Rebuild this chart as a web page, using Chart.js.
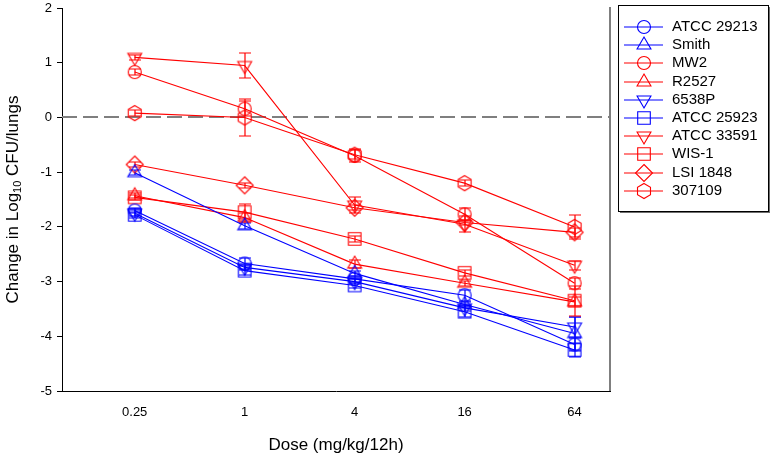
<!DOCTYPE html>
<html>
<head>
<meta charset="utf-8">
<script src="https://cdn.jsdelivr.net/npm/chart.js@4.4.1/dist/chart.umd.min.js"></script>
<style>
    html, body { margin: 0; padding: 0; background: #fff; }
    #marco { width: 771px; height: 455px; }
</style>
</head>
<body>
<div id="marco"><canvas id="grafico" width="771" height="455"></canvas></div>
<script>
    // Dosis (eje x, logarítmico) y etiquetas
    const doses = [0.25, 1, 4, 16, 64];
    const doseLabels = ['0.25', '1', '4', '16', '64'];

    // Cepas, en el orden de la leyenda
    const strains = ['ATCC 29213', 'Smith', 'MW2', 'R2527', '6538P', 'ATCC 25923', 'ATCC 33591', 'WIS-1', 'LSI 1848', '307109'];
    const strainColors = ['#0000ff', '#0000ff', '#ff0000', '#ff0000', '#0000ff', '#0000ff', '#ff0000', '#ff0000', '#ff0000', '#ff0000'];
    const strainMarkers = ['circle', 'triangle', 'circle', 'triangle', 'triangleDown', 'square', 'triangleDown', 'square', 'diamond', 'hexagon'];

    // Cambio en log10 UFC/pulmones por dosis
    const atcc29213 = [-1.70, -2.67, -2.95, -3.25, -4.15];
    const smith     = [-1.01, -1.98, -2.85, -3.42, -3.95];
    const mw2       = [0.83, 0.16, -0.70, -1.77, -3.03];
    const r2527     = [-1.43, -1.83, -2.68, -3.03, -3.37];
    const s6538p    = [-1.75, -2.74, -3.00, -3.48, -3.83];
    const atcc25923 = [-1.78, -2.80, -3.07, -3.55, -4.25];
    const atcc33591 = [1.10, 0.95, -1.60, -1.95, -2.70];
    const wis1      = [-1.46, -1.73, -2.22, -2.84, -3.35];
    const lsi1848   = [-0.86, -1.24, -1.65, -1.92, -2.10];
    const s307109   = [0.08, 0.00, -0.68, -1.20, -2.00];

    // Barras de error (±)
    const errAtcc29213 = [0.05, 0.10, 0.05, 0.10, 0.12];
    const errSmith     = [0.05, 0.05, 0.05, 0.05, 0.30];
    const errMw2       = [0.05, 0.14, 0.12, 0.12, 0.10];
    const errR2527     = [0.05, 0.08, 0.08, 0.05, 0.08];
    const err6538p     = [0.05, 0.05, 0.05, 0.05, 0.18];
    const errAtcc25923 = [0.05, 0.08, 0.05, 0.10, 0.12];
    const errAtcc33591 = [0.05, 0.23, 0.15, 0.15, 0.08];
    const errWis1      = [0.05, 0.14, 0.05, 0.05, 0.27];
    const errLsi1848   = [0.05, 0.05, 0.05, 0.05, 0.08];
    const err307109    = [0.05, 0.33, 0.08, 0.05, 0.22];

    const seriesValues = [atcc29213, smith, mw2, r2527, s6538p, atcc25923, atcc33591, wis1, lsi1848, s307109];
    const seriesErrors = [errAtcc29213, errSmith, errMw2, errR2527, err6538p, errAtcc25923, errAtcc33591, errWis1, errLsi1848, err307109];

    const FUENTE = '"Liberation Sans", Arial, sans-serif';

    // Dibuja el contorno de un marcador centrado en (cx, cy)
    function trazarMarcador(ctx, forma, cx, cy) {
        ctx.beginPath();
        if (forma === 'circle') {
            ctx.arc(cx, cy, 6.5, 0, Math.PI * 2);
        } else if (forma === 'triangle' || forma === 'triangleDown') {
            const r = 8, s = forma === 'triangle' ? 1 : -1;
            ctx.moveTo(cx, cy - s * r);
            ctx.lineTo(cx + r * 0.866, cy + s * r * 0.5);
            ctx.lineTo(cx - r * 0.866, cy + s * r * 0.5);
            ctx.closePath();
        } else if (forma === 'square') {
            ctx.rect(cx - 6.3, cy - 6.3, 12.6, 12.6);
        } else if (forma === 'diamond') {
            const d = 8.5;
            ctx.moveTo(cx, cy - d); ctx.lineTo(cx + d, cy);
            ctx.lineTo(cx, cy + d); ctx.lineTo(cx - d, cy);
            ctx.closePath();
        } else if (forma === 'hexagon') {
            const r = 7.5;
            for (let k = 0; k < 6; k++) {
                const ang = -Math.PI / 2 + k * Math.PI / 3;
                const px = cx + r * Math.cos(ang), py = cy + r * Math.sin(ang);
                if (k === 0) ctx.moveTo(px, py); else ctx.lineTo(px, py);
            }
            ctx.closePath();
        }
        ctx.stroke();
    }

    // Imagen de cada marcador para usar como pointStyle
    const markerImages = strainMarkers.map((forma, i) => {
        const c = document.createElement('canvas');
        c.width = 22; c.height = 22;
        const g = c.getContext('2d');
        g.strokeStyle = strainColors[i];
        g.lineWidth = 1.1;
        trazarMarcador(g, forma, 11, 11);
        return c;
    });

    // Línea discontinua en y = 0, borde derecho y barras de error
    const pluginFondo = {
        id: 'pluginFondo',
        beforeDatasetsDraw(chart) {
            const { ctx, chartArea: a, scales: { y } } = chart;
            ctx.save();
            const y0 = Math.round(y.getPixelForValue(0));
            ctx.strokeStyle = '#7f7f7f';
            ctx.lineWidth = 2;
            ctx.setLineDash([15, 6]);
            ctx.beginPath();
            ctx.moveTo(a.left, y0);
            ctx.lineTo(a.right, y0);
            ctx.stroke();
            ctx.restore();

            // barras de error sin ajuste a medio píxel para que conserven el color
            for (let i = 0; i < chart.data.datasets.length; i++) {
                const meta = chart.getDatasetMeta(i);
                const color = chart.data.datasets[i].borderColor;
                meta.data.forEach((pt, j) => {
                    const v = seriesValues[i][j], e = seriesErrors[i][j];
                    const xp = Math.round(pt.x);
                    const yt = Math.round(y.getPixelForValue(v + e));
                    const yb = Math.round(y.getPixelForValue(v - e));
                    ctx.save();
                    ctx.lineWidth = 1.2;
                    ctx.strokeStyle = color;
                    ctx.beginPath();
                    ctx.moveTo(xp, yt); ctx.lineTo(xp, yb);
                    ctx.moveTo(xp - 6, yt); ctx.lineTo(xp + 6, yt);
                    ctx.moveTo(xp - 6, yb); ctx.lineTo(xp + 6, yb);
                    ctx.stroke();
                    ctx.restore();
                });
            }
        },
        afterDraw(chart) {
            const { ctx, chartArea: a } = chart;
            ctx.save();
            // borde derecho gris
            ctx.strokeStyle = '#7f7f7f';
            ctx.lineWidth = 2;
            ctx.beginPath();
            ctx.moveTo(a.right, a.top - 1);
            ctx.lineTo(a.right, a.bottom);
            ctx.stroke();

            // título del eje y con subíndice
            ctx.fillStyle = '#000';
            ctx.translate(13, (a.top + a.bottom) / 2);
            ctx.rotate(-Math.PI / 2);
            ctx.textBaseline = 'middle';
            const p1 = 'Change in Log', p2 = '10', p3 = ' CFU/lungs';
            ctx.font = '17px ' + FUENTE;
            const w1 = ctx.measureText(p1).width, w3 = ctx.measureText(p3).width;
            ctx.font = '11px ' + FUENTE;
            const w2 = ctx.measureText(p2).width;
            let xx = -(w1 + w2 + w3) / 2;
            ctx.font = '17px ' + FUENTE;
            ctx.fillText(p1, xx, 0); xx += w1;
            ctx.font = '11px ' + FUENTE;
            ctx.fillText(p2, xx, 5); xx += w2;
            ctx.font = '17px ' + FUENTE;
            ctx.fillText(p3, xx, 0);
            ctx.restore();

            // título del eje x
            ctx.save();
            ctx.fillStyle = '#000';
            ctx.font = '17px ' + FUENTE;
            ctx.textAlign = 'center';
            ctx.textBaseline = 'middle';
            ctx.fillText('Dose (mg/kg/12h)', (a.left + a.right) / 2, 445);
            ctx.restore();

            // leyenda con recuadro y sombra
            ctx.save();
            const bx = 618, by = 5, bw = 150, bh = 206;
            ctx.fillStyle = '#6e6e6e';
            ctx.fillRect(bx + bw, by + 2, 2, bh);
            ctx.fillRect(bx + 2, by + bh, bw, 2);
            ctx.strokeStyle = '#000';
            ctx.lineWidth = 1;
            ctx.strokeRect(bx + 0.5, by + 0.5, bw, bh);
            ctx.font = '15px ' + FUENTE;
            ctx.textBaseline = 'middle';
            strains.forEach((nombre, i) => {
                const yy = Math.round(27 + i * 18.2);
                ctx.strokeStyle = strainColors[i];
                ctx.lineWidth = 1.2;
                ctx.beginPath();
                ctx.moveTo(624, yy); ctx.lineTo(663, yy);
                ctx.stroke();
                ctx.drawImage(markerImages[i], 644 - 11, yy - 11);
                ctx.fillStyle = '#000';
                ctx.fillText(nombre, 672, yy);
            });
            ctx.restore();
        }
    };

    const datasets = strains.map((nombre, i) => ({
        label: nombre,
        data: doses.map((d, j) => ({ x: d, y: seriesValues[i][j] })),
        borderColor: strainColors[i],
        backgroundColor: 'rgba(0,0,0,0)',
        borderWidth: 1.1,
        pointStyle: markerImages[i],
        pointRadius: 7,
        pointHoverRadius: 7,
        tension: 0,
        fill: false
    }));

    Chart.defaults.font.family = FUENTE;
    Chart.defaults.color = '#000';

    new Chart(document.getElementById('grafico').getContext('2d'), {
        type: 'line',
        data: { datasets },
        plugins: [pluginFondo],
        options: {
            responsive: false,
            animation: false,
            devicePixelRatio: 1,
            layout: { padding: { left: 0, top: 6, right: 161, bottom: 0 } },
            plugins: { legend: { display: false }, tooltip: { enabled: false } },
            scales: {
                x: {
                    type: 'logarithmic',
                    min: 0.1,
                    max: 100,
                    afterBuildTicks(s) { s.ticks = doses.map(v => ({ value: v })); },
                    afterFit(s) { s.height = 64; s.paddingLeft = 0; s.paddingRight = 0; },
                    grid: { display: false, drawTicks: false },
                    border: { display: true, color: '#000', width: 1 },
                    ticks: {
                        autoSkip: false,
                        maxRotation: 0,
                        padding: 14,
                        font: { size: 13 },
                        callback(v) { const k = doses.indexOf(v); return k >= 0 ? doseLabels[k] : ''; }
                    }
                },
                y: {
                    type: 'linear',
                    min: -5,
                    max: 2,
                    afterFit(s) { s.width = 62; s.paddingTop = 0; s.paddingBottom = 0; },
                    grid: { display: true, drawOnChartArea: false, drawTicks: true, tickLength: 5, color: '#000' },
                    border: { display: true, color: '#000', width: 1 },
                    ticks: { stepSize: 1, padding: 5, font: { size: 13 } }
                }
            }
        }
    });
</script>
</body>
</html>
